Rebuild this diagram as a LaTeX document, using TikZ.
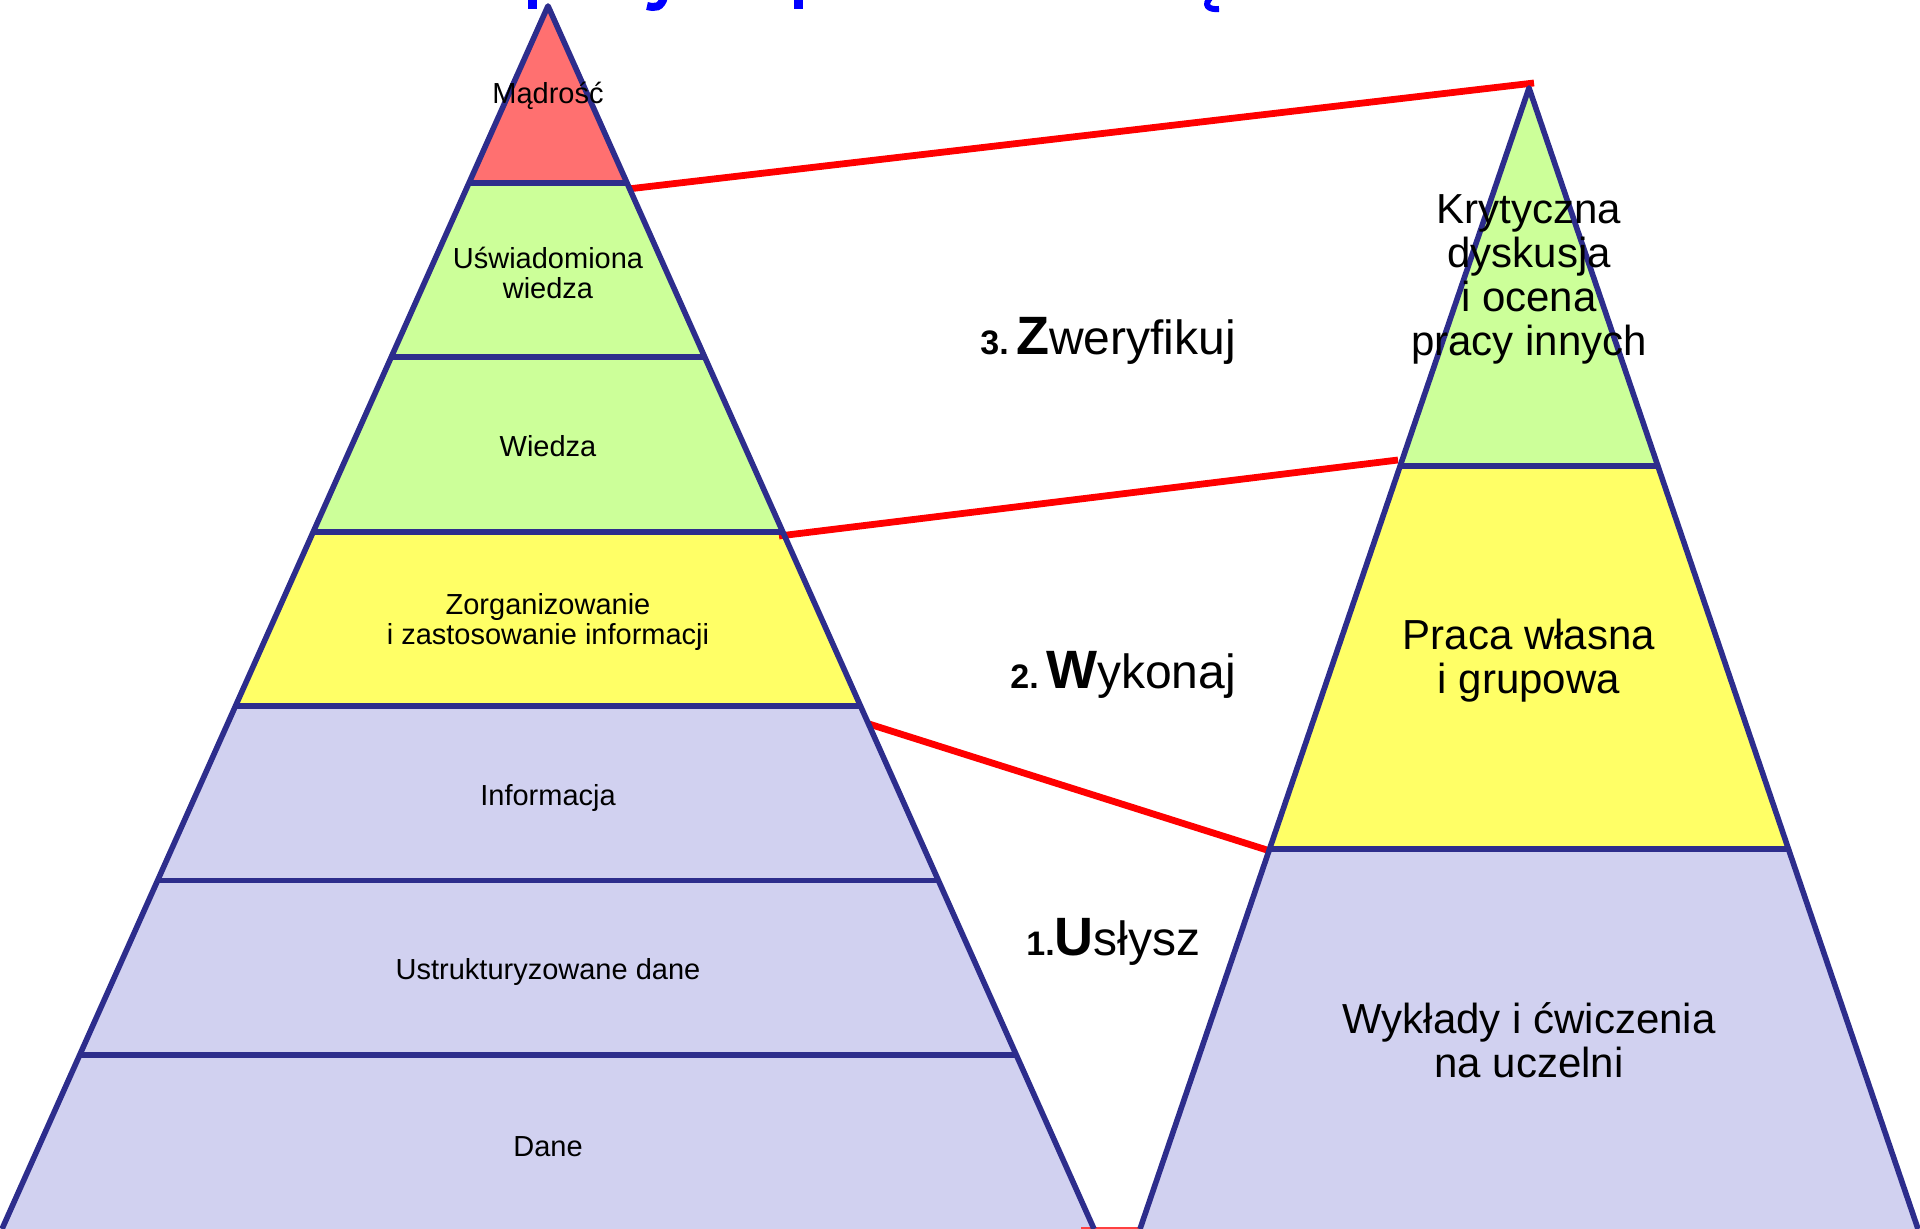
\documentclass[tikz,border=0pt]{standalone}
\usepackage{fontspec}
\setmainfont{Liberation Sans}
\definecolor{outl}{RGB}{45,45,140}
\definecolor{cred}{RGB}{255,112,112}
\definecolor{cgreen}{RGB}{204,255,153}
\definecolor{cyellow}{RGB}{255,255,102}
\definecolor{clav}{RGB}{209,209,240}
\definecolor{titleblue}{RGB}{0,0,255}
\newcommand{\stepnum}[1]{{\fontsize{17}{18}\selectfont\bfseries #1}}
\newcommand{\stepcap}[1]{{\fontsize{27}{28}\selectfont\bfseries #1}}
\newcommand{\steprest}[1]{{\fontsize{24}{25}\selectfont #1}}
\begin{document}
\begin{tikzpicture}[x=0.5pt,y=-0.5pt,
  outline/.style={draw=outl,line width=2.8pt,line join=round},
  link/.style={draw=red,line width=3.4pt},
  lbl/.style={font=\fontsize{14.5}{15}\selectfont,align=center,inner sep=0pt},
  biglbl/.style={font=\fontsize{21}{22}\selectfont,align=center,inner sep=0pt},
  steplbl/.style={anchor=base west,inner sep=0pt}]
\useasboundingbox (0,0) rectangle (1920,1229);
% ---------- left pyramid corners
\coordinate (LA) at (548,6);
\coordinate (L1l) at (469.0,183);   \coordinate (L1r) at (627.0,183);
\coordinate (L2l) at (391.2,357.3); \coordinate (L2r) at (704.8,357.3);
\coordinate (L3l) at (313.3,531.7); \coordinate (L3r) at (782.7,531.7);
\coordinate (L4l) at (235.5,706);   \coordinate (L4r) at (860.5,706);
\coordinate (L5l) at (157.7,880.3); \coordinate (L5r) at (938.3,880.3);
\coordinate (L6l) at (79.8,1054.7); \coordinate (L6r) at (1016.2,1054.7);
\coordinate (L7l) at (2,1229);      \coordinate (L7r) at (1094,1229);
% ---------- right pyramid corners
\coordinate (RA) at (1529,88);
\coordinate (R1l) at (1400.1,466); \coordinate (R1r) at (1657.9,466);
\coordinate (R2l) at (1269.6,849); \coordinate (R2r) at (1788.4,849);
\coordinate (R3l) at (1140,1229);  \coordinate (R3r) at (1918,1229);
% ---------- fills
\fill[cred] (LA) -- (L1r) -- (L1l) -- cycle;
\fill[cgreen] (L1l) -- (L1r) -- (L3r) -- (L3l) -- cycle;
\fill[cyellow] (L3l) -- (L3r) -- (L4r) -- (L4l) -- cycle;
\fill[clav] (L4l) -- (L4r) -- (L7r) -- (L7l) -- cycle;
\fill[cgreen] (RA) -- (R1r) -- (R1l) -- cycle;
\fill[cyellow] (R1l) -- (R1r) -- (R2r) -- (R2l) -- cycle;
\fill[clav] (R2l) -- (R2r) -- (R3r) -- (R3l) -- cycle;
% ---------- red links
\coordinate (k1a) at (628,189);  \coordinate (k1b) at (1534,83);
\coordinate (k2a) at (779,536);  \coordinate (k2b) at (1398,460);
\coordinate (k3a) at (869,724);  \coordinate (k3b) at (1267,850);
\draw[link] (k1a) -- (k1b);
\draw[link] (k2a) -- (k2b);
\draw[link] (k3a) -- (k3b);
\fill[red!75] (1081,1227) rectangle (1142,1229);
% ---------- outlines
\draw[outline] (L7l) -- (LA) -- (L7r);
\foreach \i in {1,...,6} \draw[outline] (L\i l) -- (L\i r);
\draw[outline] (R3l) -- (RA) -- (R3r);
\draw[outline] (R1l) -- (R1r);
\draw[outline] (R2l) -- (R2r);
% ---------- left labels
\node[lbl] (t1) at (548,96) {Mądrość};
\node[lbl] (t2) at (548,273) {Uświadomiona\\wiedza};
\node[lbl] (t3) at (548,446) {Wiedza};
\node[lbl] (t4) at (548,622) {Zorganizowanie\\i zastosowanie informacji};
\node[lbl] (t5) at (548,798) {Informacja};
\node[lbl] (t6) at (548,972) {Ustrukturyzowane dane};
\node[lbl] (t7) at (548,1147) {Dane};
% ---------- right labels
\node[biglbl] (r1) at (1529,279) {Krytyczna\\dyskusja\\i ocena\\pracy innych};
\node[biglbl] (r2) at (1529,661) {Praca własna\\i grupowa};
\node[biglbl] (r3) at (1529,1040) {Wykłady i ćwiczenia\\na uczelni};
% ---------- step labels
\node[steplbl] (s3) at (980,355) {\stepnum{3.} \stepcap{Z}\steprest{weryfikuj}};
\node[steplbl] (s2) at (1010,688) {\stepnum{2.} \stepcap{W}\steprest{ykonaj}};
\node[steplbl] (s1) at (1026,955) {\stepnum{1.}\stepcap{U}\steprest{słysz}};
% ---------- cut-off title descenders
\fill[titleblue] (528,0) rectangle (537,9);
\draw[titleblue,line width=4pt] (664,-3) .. controls (661,8) and (655,8) .. (647,6);
\fill[titleblue] (794,0) rectangle (803,9);
\draw[titleblue,line width=3pt] (1211,-3) .. controls (1203,5) and (1208,10) .. (1219,9);
\end{tikzpicture}
\end{document}
